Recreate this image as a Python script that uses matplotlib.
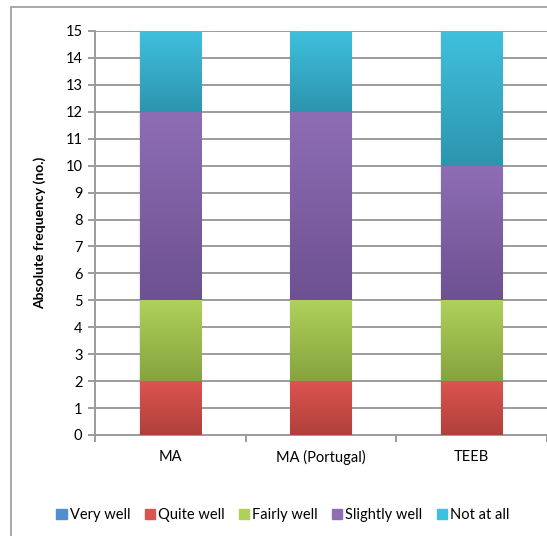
import matplotlib
matplotlib.use('Agg')
import matplotlib.pyplot as plt
import matplotlib.colors as mcolors
from matplotlib.patches import Rectangle
import numpy as np

categories = ['MA', 'MA (Portugal)', 'TEEB']
levels = ['Very well', 'Quite well', 'Fairly well', 'Slightly well', 'Not at all']
very_well = [0, 0, 0]
quite_well = [2, 2, 2]
fairly_well = [3, 3, 3]
slightly_well = [7, 7, 5]
not_at_all = [3, 3, 5]

series = [very_well, quite_well, fairly_well, slightly_well, not_at_all]
# (top colour, bottom colour) for the Excel-style gradient
grad_colors = [
    ('#4F8FD0', '#3A6FA8'),
    ('#DC5450', '#B0403B'),
    ('#AED15A', '#86A33E'),
    ('#8E6DB5', '#6D5190'),
    ('#3FC0DE', '#2D94AE'),
]

plt.rcParams['font.family'] = ['Lato', 'DejaVu Sans']

fig = plt.figure(figsize=(5.47, 5.36), dpi=100)
ax = fig.add_axes([95 / 547, 1 - 435 / 536, 452 / 547, 404 / 536])

x = np.arange(len(categories))
width = 0.405
bottom = np.zeros(len(categories))

for vals, (ctop, cbot), name in zip(series, grad_colors, levels):
    vals = np.array(vals, dtype=float)
    bars = ax.bar(x, vals, width, bottom=bottom, color=cbot, label=name,
                  zorder=3, linewidth=0)
    cmap = mcolors.LinearSegmentedColormap.from_list(name, [cbot, ctop])
    grad = np.linspace(0, 1, 100).reshape(-1, 1)
    for b in bars:
        if b.get_height() <= 0:
            continue
        x0, y0 = b.get_x(), b.get_y()
        ax.imshow(grad, cmap=cmap, origin='lower', aspect='auto',
                  extent=[x0, x0 + b.get_width(), y0, y0 + b.get_height()],
                  zorder=4, interpolation='bilinear')
    bottom += vals

# soft shadow behind bars
for dx, a in [(0.02, 0.06), (0.012, 0.08)]:
    ax.bar(x, bottom, width + dx, color='gray', alpha=a, zorder=2, linewidth=0)

ax.set_xlim(-0.5, 2.5)
ax.set_ylim(0, 15)
ax.set_yticks(range(0, 16))
ax.yaxis.grid(True, color='#9c9c9c', linewidth=1.4, zorder=1)
ax.set_axisbelow(True)

ax.set_xticks(x)
ax.set_xticklabels(categories, fontsize=10.5)
ax.set_xticks(np.arange(-0.5, 3, 1), minor=True)
ax.tick_params(axis='x', which='major', length=0, pad=11)
ax.tick_params(axis='x', which='minor', length=5, width=1.4, color='#9c9c9c',
               direction='out')
ax.tick_params(axis='y', length=5, width=1.4, color='#9c9c9c', labelsize=10.5,
               pad=4)

for s in ['top', 'right']:
    ax.spines[s].set_visible(False)
for s in ['left', 'bottom']:
    ax.spines[s].set_color('#9c9c9c')
    ax.spines[s].set_linewidth(1.4)

ax.set_ylabel('Absolute frequency (no.)', fontsize=10, fontweight='bold')
ax.yaxis.set_label_coords(-49 / 452, 0.5)

handles = [Rectangle((0, 0), 1, 1, color=c[0]) for c in grad_colors]
fig.legend(handles, levels, loc='center', ncol=5,
           bbox_to_anchor=(283 / 547, 1 - 515 / 536), frameon=False,
           fontsize=10.5, handlelength=0.7, handleheight=0.7,
           handletextpad=0.2, columnspacing=1.0)

# outer chart border
fig.add_artist(Rectangle((11 / 547, -0.1), 1.2, 1.1 - 7 / 536,
                         transform=fig.transFigure, fill=False,
                         edgecolor='#a8a8a8', linewidth=1.4))

fig.savefig('out.png', dpi=100)
